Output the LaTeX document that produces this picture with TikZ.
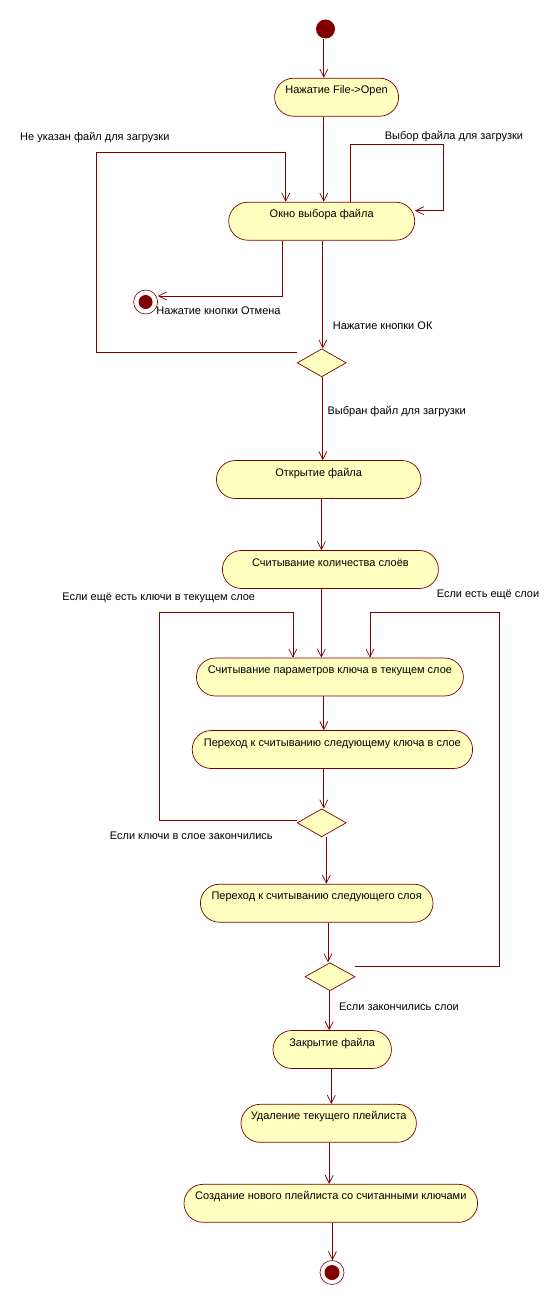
\documentclass[tikz,border=0pt]{standalone}
\usepackage{fontspec}
\setmainfont{Liberation Sans}
\usetikzlibrary{shapes.geometric,arrows.meta}
\definecolor{ln}{RGB}{128,0,0}
\definecolor{fl}{RGB}{255,255,192}
\begin{document}
\begin{tikzpicture}[x=1pt,y=-1pt,
  act/.style={draw=ln, fill=fl, rounded corners=19pt, minimum height=38pt,
    inner xsep=0pt, inner ysep=0pt, text height=15.5pt, text depth=22.5pt,
    font=\fontsize{11}{13}\selectfont, line width=0.7pt},
  dec/.style={draw=ln, fill=fl, diamond, minimum width=49pt, minimum height=28pt,
    inner sep=0pt, line width=0.7pt},
  flow/.style={draw=ln, line width=0.7pt, -{Straight Barb[length=8pt,width=8pt]}},
  lbl/.style={font=\fontsize{11}{13}\selectfont, inner sep=0pt}
]
\useasboundingbox (0,0) rectangle (553,1305);
\fill[white] (0,0) rectangle (553,1305);

% x positions of vertical connectors
\coordinate (xA) at (323.8,0);
\coordinate (xB) at (322.8,0);
\coordinate (xC) at (321.4,0);
\coordinate (xD) at (326.3,0);
\coordinate (xE) at (328,0);
\coordinate (xF) at (329.2,0);
\coordinate (xG) at (331.3,0);
\coordinate (xH) at (332.4,0);

% nodes
\node[circle, fill=ln, minimum size=19pt, inner sep=0pt] (start) at (325.5,29) {};
\node[act, minimum width=124pt] (b1) at (336.6,97.2) {Нажатие File->Open};
\node[act, minimum width=186pt] (b2) at (321.7,221.2) {Окно выбора файла};
\node[circle, draw=ln, fill=white, minimum size=24pt, inner sep=0pt, line width=0.6pt] (cancel) at (145.6,302) {};
\node[circle, fill=ln, minimum size=14pt, inner sep=0pt] (cancelin) at (cancel) {};
\node[dec] (d1) at (321.7,362.8) {};
\node[act, minimum width=204.6pt] (b3) at (318.7,479.5) {Открытие файла};
\node[act, minimum width=216pt] (b4) at (330.4,569.5) {Считывание количества слоёв};
\node[act, minimum width=267pt] (b5) at (329.9,677) {Считывание параметров ключа в текущем слое};
\node[act, minimum width=280.4pt] (b6) at (332.4,749.5) {Переход к считыванию следующему ключа в слое};
\node[dec] (d2) at (321.7,822.8) {};
\node[act, minimum width=232.6pt] (b7) at (316.7,903.2) {Переход к считыванию следующего слоя};
\node[dec, minimum width=50pt] (d3) at (330,976.7) {};
\node[act, minimum width=118.5pt] (b8) at (332.2,1049.5) {Закрытие файла};
\node[act, minimum width=175.4pt] (b9) at (328.7,1123.3) {Удаление текущего плейлиста};
\node[act, minimum width=293.6pt] (b10) at (330.8,1203.3) {Создание нового плейлиста со считанными ключами};
\node[circle, draw=ln, fill=white, minimum size=24pt, inner sep=0pt, line width=0.6pt] (fin) at (332,1272.5) {};
\node[circle, fill=ln, minimum size=15pt, inner sep=0pt] (finin) at (fin) {};

% labels
\node[lbl] (t1) at (94.8,137.7) {Не указан файл для загрузки};
\node[lbl] (t2) at (454,136.7) {Выбор файла для загрузки};
\node[lbl] (t3) at (218.5,311) {Нажатие кнопки Отмена};
\node[lbl] (t4) at (382.6,325.3) {Нажатие кнопки ОК};
\node[lbl] (t5) at (396.7,411.7) {Выбран файл для загрузки};
\node[lbl] (t6) at (158.7,597.7) {Если ещё есть ключи в текущем слое};
\node[lbl] (t7) at (488,595) {Если есть ещё слои};
\node[lbl] (t8) at (191.3,836) {Если ключи в слое закончились};
\node[lbl] (t9) at (399,1006.7) {Если закончились слои};

% loop corner coordinates
\coordinate (c0) at (96,152.3);
\coordinate (c1) at (285.8,152.3);
\coordinate (r0) at (350.5,144.3);
\coordinate (r1) at (443,210.7);
\coordinate (k0) at (282.2,296);
\coordinate (m0) at (159.8,612.3);
\coordinate (m1) at (292.9,612.3);
\coordinate (n0) at (499,612.3);
\coordinate (n1) at (370,612.3);

% main flow
\draw[flow] (start.south -| xA) -- (b1.north -| xA);
\draw[flow] (b1.south -| xA) -- (b2.north -| xA);
\draw[flow] (b2.south -| xB) -- (d1.north -| xB);
\draw[flow] (d1.south -| xB) -- (b3.north -| xB);
\draw[flow] (b3.south -| xC) -- (b4.north -| xC);
\draw[flow] (b4.south -| xC) -- (b5.north -| xC);
\draw[flow] (b5.south -| xA) -- (b6.north -| xA);
\draw[flow] (b6.south -| xA) -- (d2.north -| xA);
\draw[flow] (d2.south -| xD) -- (b7.north -| xD);
\draw[flow] (b7.south -| xE) -- (d3.north -| xE);
\draw[flow] (d3.south -| xF) -- (b8.north -| xF);
\draw[flow] (b8.south -| xG) -- (b9.north -| xG);
\draw[flow] (b9.south -| xF) -- (b10.north -| xF);
\draw[flow] (b10.south -| xH) -- (fin.north -| xH);

% loops and branches
\draw[flow] ([yshift=10.5pt]d1.west) -| (c0) -- (c1) -- (b2.north -| c1);
\draw[flow] (b2.north -| r0) -- (r0) -| (r1) -- (b2.east |- r1);
\draw[flow] (b2.south -| k0) -- (k0) -- (cancel.east |- k0);
\draw[flow] ([yshift=2.8pt]d2.west) -| (m0) -- (m1) -- (b5.north -| m1);
\draw[flow] ([yshift=10.7pt]d3.east) -| (n0) -- (n1) -- (b5.north -| n1);
\end{tikzpicture}
\end{document}
